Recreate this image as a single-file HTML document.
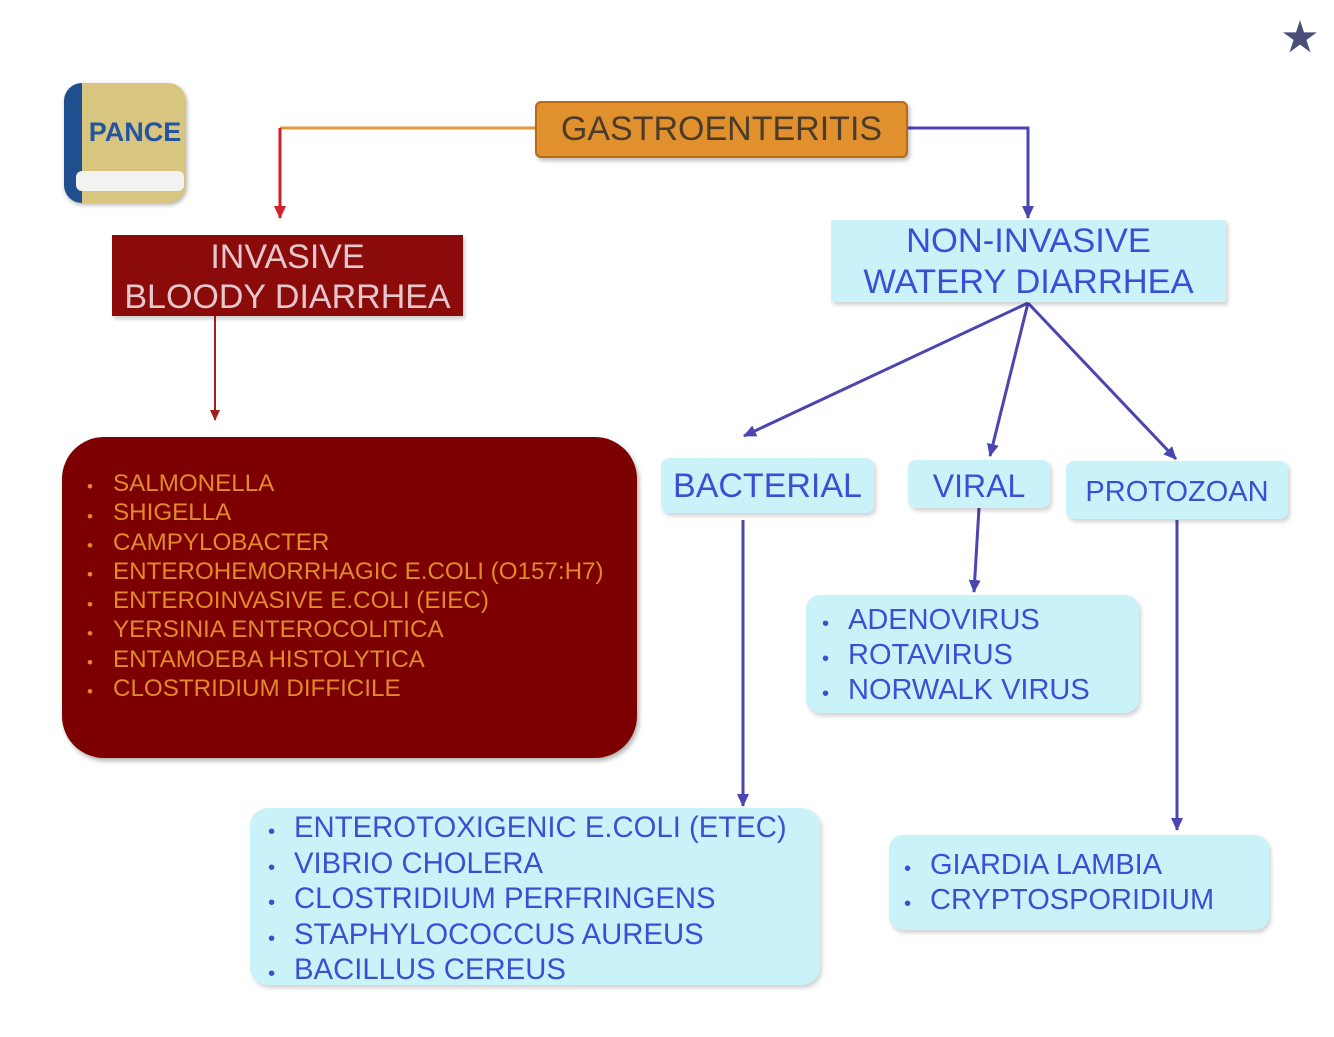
<!DOCTYPE html>
<html><head><style>
body{margin:0;width:1334px;height:1037px;background:#fff;position:relative;overflow:hidden;font-family:"Liberation Sans",sans-serif}
.b{position:absolute;box-sizing:border-box}
.c{background:#c9f3f8;color:#3b4fd6;box-shadow:2px 3px 4px rgba(0,0,0,.18);border-radius:8px}
ul{margin:0;padding:0;list-style:none}
li{position:relative;white-space:nowrap}
li:before{content:"•";position:absolute;left:-26px;font-size:.7em;top:.2em}
</style></head><body>
<svg class="b" style="left:0;top:0" width="1334" height="1037">
<defs>
<marker id="ar" markerUnits="userSpaceOnUse" markerWidth="14" markerHeight="14" refX="12" refY="7" orient="auto"><path d="M0,1L13,7L0,13z" fill="#d0202a"/></marker>
<marker id="ab" markerUnits="userSpaceOnUse" markerWidth="14" markerHeight="14" refX="12" refY="7" orient="auto"><path d="M0,1L13,7L0,13z" fill="#4a45b0"/></marker>
<marker id="ad" markerUnits="userSpaceOnUse" markerWidth="12" markerHeight="12" refX="10" refY="6" orient="auto"><path d="M0,1L11,6L0,11z" fill="#a02020"/></marker>
</defs>
<path d="M535,128H280" stroke="#e0983c" stroke-width="3" fill="none"/>
<path d="M280,128V218" stroke="#d0202a" stroke-width="3" fill="none" marker-end="url(#ar)"/>
<path d="M908,128H1028V218" stroke="#4a45b0" stroke-width="3" fill="none" marker-end="url(#ab)"/>
<path d="M215,316V420" stroke="#a02020" stroke-width="2" fill="none" marker-end="url(#ad)"/>
<g stroke="#4a45b0" stroke-width="3" fill="none">
<path d="M1028,303L744,436" marker-end="url(#ab)"/>
<path d="M1028,303L990,456" marker-end="url(#ab)"/>
<path d="M1028,303L1176,459" marker-end="url(#ab)"/>
<path d="M743,520V806" marker-end="url(#ab)"/>
<path d="M979,508L974,592" marker-end="url(#ab)"/>
<path d="M1177,520V830" marker-end="url(#ab)"/>
</g>
<text x="1300" y="52" font-size="44" text-anchor="middle" fill="#4a4f7a">★</text>
</svg>
<div class="b" style="left:64px;top:83px;width:122px;height:120px;border-radius:18px;background:#d8c680;overflow:hidden;box-shadow:1px 2px 4px rgba(0,0,0,.3)">
<div class="b" style="left:0;top:0;width:18px;height:120px;background:#1f4f8f"></div>
<div class="b" style="left:12px;top:88px;width:108px;height:20px;background:#f2f2f0;border-radius:6px"></div>
<div class="b" style="left:20px;top:34px;width:102px;text-align:center;font:bold 27px 'Liberation Sans';color:#2356a0">PANCE</div></div>
<div class="b" style="left:535px;top:101px;width:373px;height:57px;background:#e1902e;border:2px solid #b86a16;border-radius:6px;color:#4d3b2a;font-size:34px;text-align:center;line-height:53px;box-shadow:2px 3px 4px rgba(0,0,0,.25)">GASTROENTERITIS</div>
<div class="b" style="left:112px;top:235px;width:351px;height:81px;background:#8b0a0a;color:#e6c8cc;font-size:34px;text-align:center;line-height:40px;padding-top:2px;box-shadow:2px 3px 4px rgba(0,0,0,.2)">INVASIVE<br>BLOODY DIARRHEA</div>
<div class="b c" style="left:831px;top:220px;width:395px;height:82px;border-radius:0;font-size:34.5px;text-align:center;line-height:41px;padding-top:1px">NON-INVASIVE<br>WATERY DIARRHEA</div>
<div class="b" style="left:62px;top:437px;width:575px;height:321px;background:#7d0000;border-radius:42px;box-shadow:2px 3px 5px rgba(0,0,0,.3);color:#e08a2a;font-size:24.2px;line-height:29.3px;padding:32px 0 0 51px">
<ul><li>SALMONELLA</li><li>SHIGELLA</li><li>CAMPYLOBACTER</li><li>ENTEROHEMORRHAGIC E.COLI (O157:H7)</li><li>ENTEROINVASIVE E.COLI (EIEC)</li><li>YERSINIA ENTEROCOLITICA</li><li>ENTAMOEBA HISTOLYTICA</li><li>CLOSTRIDIUM DIFFICILE</li></ul></div>
<div class="b c" style="left:661px;top:458px;width:213px;height:55px;font-size:34px;text-align:center;line-height:57px">BACTERIAL</div>
<div class="b c" style="left:908px;top:460px;width:142px;height:48px;font-size:32px;text-align:center;line-height:52px">VIRAL</div>
<div class="b c" style="left:1066px;top:461px;width:222px;height:58px;font-size:29px;text-align:center;line-height:62px">PROTOZOAN</div>
<div class="b c" style="left:806px;top:595px;width:333px;height:118px;border-radius:14px;font-size:29px;line-height:35px;padding:8px 0 0 42px"><ul><li>ADENOVIRUS</li><li>ROTAVIRUS</li><li>NORWALK VIRUS</li></ul></div>
<div class="b c" style="left:250px;top:808px;width:570px;height:177px;border-radius:18px;font-size:29.3px;line-height:35.5px;padding:2px 0 0 44px"><ul><li>ENTEROTOXIGENIC E.COLI (ETEC)</li><li>VIBRIO CHOLERA</li><li>CLOSTRIDIUM PERFRINGENS</li><li>STAPHYLOCOCCUS AUREUS</li><li>BACILLUS CEREUS</li></ul></div>
<div class="b c" style="left:889px;top:835px;width:380px;height:95px;border-radius:14px;font-size:29px;line-height:35px;padding:13px 0 0 41px"><ul><li>GIARDIA LAMBIA</li><li>CRYPTOSPORIDIUM</li></ul></div>
</body></html>
